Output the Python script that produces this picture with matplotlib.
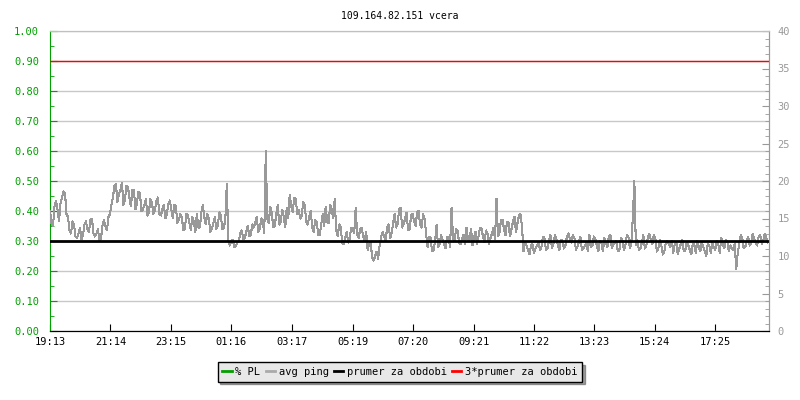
import numpy as np
import matplotlib
matplotlib.use('Agg')
import matplotlib.pyplot as plt
from matplotlib.lines import Line2D
from matplotlib.ticker import MultipleLocator, FormatStrFormatter

# avg ping [ms], readings every 6 minutes starting at 19:13 (ping_a)
# and the readings 3 minutes later (ping_b)
ping_a = [
    16.0, 14.0, 17.4, 14.6, 17.8, 18.4, 15.2, 13.0, 14.2, 12.4, 13.8,
    12.8, 14.6, 13.2, 15.0, 12.6, 13.6, 12.3, 14.8, 13.4,
    15.6, 17.8, 19.6, 18.2, 19.8, 17.4, 19.2, 16.6, 18.8,
    17.0, 18.4, 16.2, 17.6, 15.8, 17.2, 16.0, 17.8, 15.4, 16.8,
    15.6, 17.4, 15.0, 16.6, 14.8, 15.2, 13.6, 15.4, 13.4, 14.6,
    15.6, 13.8, 16.8, 14.2, 15.0, 13.6, 15.2, 14.0, 15.4, 13.8,
    19.6, 11.4, 12.2, 11.3, 12.0, 13.4, 12.4, 14.0, 12.8, 13.8,
    15.2, 13.6, 14.6, 24.0, 14.4, 15.8, 14.0, 16.8, 14.6, 15.2,
    16.4, 18.2, 15.8, 17.6, 16.2, 15.4, 16.8, 14.2, 16.0,
    13.2, 14.6, 12.8, 15.6, 16.6, 14.4, 16.2, 17.6,
    12.6, 13.8, 11.6, 13.2, 12.2, 13.6, 16.4, 12.4, 13.8, 12.0,
    10.8, 11.8, 9.4, 10.6, 11.4, 13.2, 12.0, 14.2, 13.0, 15.6, 14.2,
    16.4, 14.2, 15.8, 13.6, 15.6, 14.0, 16.0, 13.8, 15.0,
    11.2, 12.4, 10.8, 14.2, 11.6, 12.2, 11.0, 12.4, 16.4,
    12.0, 13.4, 11.6, 12.8, 13.8, 12.2, 11.4, 13.2, 12.6, 13.6, 11.8, 13.0, 12.4, 13.8,
    17.6, 13.2, 14.8, 12.8, 14.4, 13.6, 15.2, 14.4, 15.6,
    10.6, 11.4, 10.2, 11.6, 11.0, 11.8,
    11.2, 12.4, 11.0, 12.8, 11.6, 12.2, 10.8, 12.0, 11.4, 13.0, 11.8, 12.4, 11.2,
    12.6, 11.0, 11.8, 12.8, 11.4, 12.2, 10.6, 11.8, 12.4, 11.2, 12.8, 11.6, 12.0,
    10.8, 12.2, 11.4, 12.6, 11.8,
    20.0, 12.2, 11.0, 12.8, 11.4, 13.0, 11.6, 12.4, 11.0,
    11.4, 10.6, 12.0, 11.2, 10.4, 11.8, 11.0, 12.2, 10.8, 11.4, 10.2, 11.6, 12.0,
    10.6, 11.2, 10.0, 11.4, 11.8, 10.8, 11.6, 12.4, 11.0, 12.0, 11.4, 10.8,
    8.2, 11.6, 12.4, 11.2, 12.6, 11.8, 12.2, 11.4, 12.8, 12.0, 12.4,
]
ping_b = [
    14.4, 16.6, 16.2, 17.0, 18.6, 15.6, 13.4, 14.6, 12.6, 13.0, 12.2,
    14.2, 13.6, 14.8, 13.0, 13.0, 12.0, 14.0, 14.0, 15.2,
    16.8, 19.4, 17.2, 18.8, 16.8, 19.4, 17.8, 18.8, 16.2,
    18.6, 16.0, 16.8, 15.4, 17.6, 15.6, 17.4, 15.6, 16.2, 15.0,
    17.0, 16.2, 16.8, 14.4, 15.6, 13.4, 15.6, 14.4, 15.2, 13.2,
    13.8, 15.8, 15.2, 15.6, 13.2, 14.4, 13.6, 15.8, 13.6, 14.8,
    12.0, 12.0, 11.2, 11.8, 13.0, 12.2, 13.2, 12.6, 14.2, 14.4,
    13.2, 15.0, 13.0, 15.0, 16.6, 13.8, 15.6, 14.2, 16.2, 13.8,
    15.0, 16.6, 17.8, 15.6, 15.0, 17.2, 14.6, 15.2, 13.8,
    14.8, 12.8, 14.2, 14.0, 14.6, 16.8, 15.0, 13.4,
    14.2, 11.8, 12.4, 11.8, 13.8, 13.0, 12.8, 13.6, 12.6, 13.2,
    11.6, 9.8, 10.0, 9.6, 12.6, 12.6, 13.8, 12.4, 14.4, 13.8, 16.2,
    13.8, 15.0, 13.4, 15.4, 14.6, 15.8, 14.2, 15.6, 13.0,
    12.6, 10.6, 12.0, 11.2, 12.8, 11.6, 12.6, 11.2, 12.4,
    13.6, 11.8, 12.2, 11.6, 12.0, 13.6, 12.4, 11.6, 13.8, 12.6, 13.4, 11.6, 13.0, 12.2,
    12.6, 14.8, 13.6, 14.6, 12.6, 14.6, 13.2, 15.4, 14.0,
    11.8, 10.8, 11.4, 10.4, 11.4, 10.8,
    12.6, 10.8, 12.0, 11.0, 12.8, 11.4, 12.2, 11.0, 12.6, 12.2, 12.8, 10.8, 11.8,
    10.8, 11.4, 10.6, 11.2, 12.6, 11.4, 12.0, 10.6, 11.8, 12.6, 11.0, 11.8, 10.6,
    12.4, 10.8, 12.8, 11.0, 15.2,
    11.4, 10.8, 11.8, 11.0, 12.4, 12.2, 12.8, 10.6, 12.2,
    10.2, 11.8, 11.6, 12.0, 11.6, 10.2, 11.6, 10.6, 11.8, 10.8, 11.6, 10.4, 11.2,
    11.8, 10.6, 11.6, 10.4, 11.2, 12.0, 10.4, 11.6, 12.2, 10.6, 11.0, 11.6,
    10.4, 12.8, 11.0, 12.0, 11.4, 13.0, 11.8, 12.6, 11.6, 13.0, 11.8,
]
step_min = 6
prumer = 12.0          # prumer za obdobi [ms]
prumer3 = 3 * prumer   # 3*prumer za obdobi

tick_labels = ['19:13', '21:14', '23:15', '01:16', '03:17', '05:19',
               '07:20', '09:21', '11:22', '13:23', '15:24', '17:25']

green = '#00a000'
grey = '#999999'
font = 'DejaVu Sans Mono'
fs = 7.5

# tick positions in minutes after the first label
start = 19 * 60 + 13
tick_pos = [((int(s[:2]) * 60 + int(s[3:])) - start) % 1440 for s in tick_labels]

# merge both reading sets in time order
ping = np.column_stack([ping_a, ping_b]).ravel()
t = np.arange(len(ping)) * step_min / 2

fig = plt.figure(figsize=(8, 4), dpi=100)
ax = fig.add_axes([0.0625, 0.1725, 0.899, 0.75])
ax2 = ax.twinx()

# left axis (packet loss)
ax.set_xlim(0, 1440)
ax.set_ylim(0, 1)
ax.yaxis.set_major_locator(MultipleLocator(0.1))
ax.yaxis.set_minor_locator(MultipleLocator(0.05))
ax.yaxis.set_major_formatter(FormatStrFormatter('%.2f'))
ax.grid(axis='y', color='#c8c8c8', lw=1)
ax.tick_params(axis='y', which='both', direction='in', colors=green,
               labelcolor=green, labelsize=fs, pad=8)
ax.tick_params(axis='y', which='major', length=5)
ax.tick_params(axis='y', which='minor', length=3)
ax.set_xticks(tick_pos)
ax.set_xticklabels(tick_labels)
ax.tick_params(axis='x', direction='in', length=5, labelsize=fs, pad=4)
for lab in ax.get_xticklabels() + ax.get_yticklabels():
    lab.set_family(font)

# right axis (ping ms)
ax2.plot(t, ping, color=grey, lw=0.75, antialiased=False)
ax2.axhline(prumer, color='black', lw=2)
ax2.axhline(prumer3, color='#ff0000', lw=1)
ax2.set_ylim(0, 40)
ax2.set_xlim(0, 1440)
ax2.yaxis.set_major_locator(MultipleLocator(5))
ax2.yaxis.set_minor_locator(MultipleLocator(1))
ax2.tick_params(axis='y', which='both', direction='in', colors=grey,
                labelcolor=grey, labelsize=fs, pad=6)
ax2.tick_params(axis='y', which='major', length=5)
ax2.tick_params(axis='y', which='minor', length=3)
for lab in ax2.get_yticklabels():
    lab.set_family(font)

for a in (ax, ax2):
    a.spines['top'].set_color('#c0c0c0')
    a.spines['bottom'].set_color('black')
    a.spines['left'].set_color(green)
    a.spines['right'].set_color(grey)
ax2.spines['left'].set_visible(False)

fig.suptitle('109.164.82.151 vcera', y=0.972, fontsize=7, family=font)

handles = [Line2D([], [], color=green, lw=2),
           Line2D([], [], color='#aaaaaa', lw=2),
           Line2D([], [], color='black', lw=2),
           Line2D([], [], color='#ff0000', lw=2)]
labels = ['% PL', 'avg ping', 'prumer za obdobi', '3*prumer za obdobi']
leg = fig.legend(handles, labels, loc='center', bbox_to_anchor=(0.5, 0.07),
                 ncol=4, fancybox=False, shadow=True, frameon=True,
                 handlelength=0.9, handletextpad=0.35, columnspacing=0.5,
                 borderpad=0.45, prop={'family': font, 'size': 7.5})
leg.get_frame().set_facecolor('#e8e8e8')
leg.get_frame().set_edgecolor('black')
leg.get_frame().set_alpha(1)

fig.savefig('out.png', dpi=100)
